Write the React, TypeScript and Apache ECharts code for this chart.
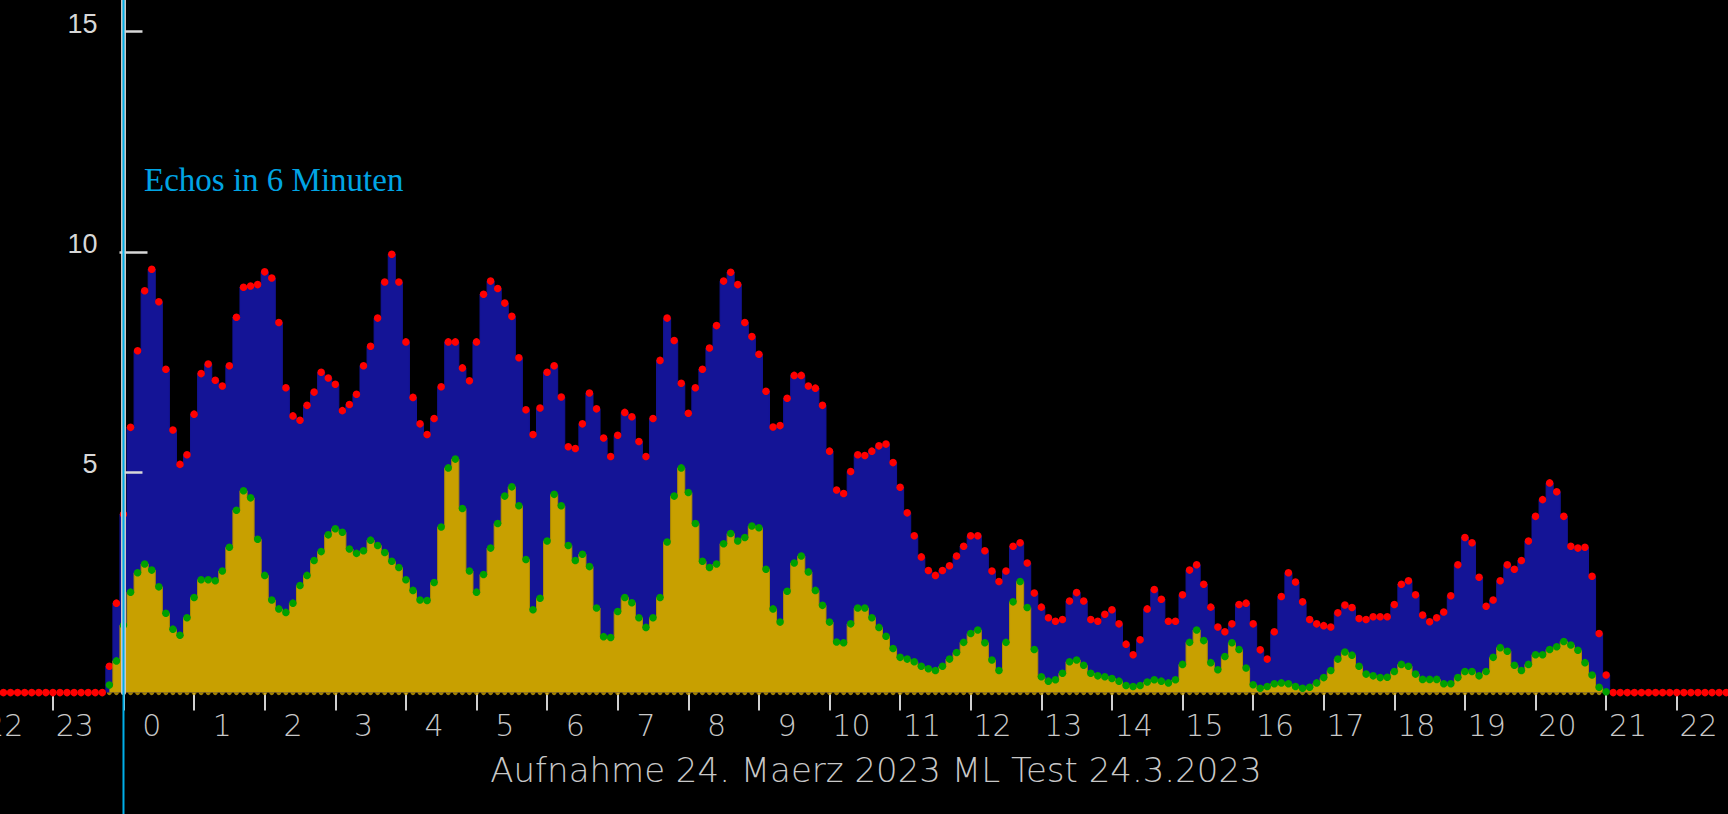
import React, { useEffect, useRef } from "react";
import * as echarts from "echarts";

// one sample every 6 minutes (0.1 h); x axis is hours after midnight
const STEP_HOURS = 0.1;
const TOTAL_START_HOUR = -1.7;
const totalEchos = [
  0, 0, 0, 0, 0, 0, 0, 0, 0, 0, 0, 0, 0, 0, 0,
  0.6, 2.03, 4.05, 6.02, 7.76, 9.12, 9.61, 8.87, 7.34, 5.96, 5.18, 5.4,
  6.32, 7.24, 7.46, 7.09, 6.96, 7.42, 8.52, 9.2, 9.23, 9.26,
  9.55, 9.41, 8.4, 6.92, 6.28, 6.18, 6.52, 6.82, 7.27, 7.14,
  7.0, 6.4, 6.54, 6.77, 7.42, 7.86, 8.5, 9.32, 9.95, 9.32,
  7.96, 6.7, 6.1, 5.86, 6.22, 6.94, 7.96, 7.96, 7.37, 7.08,
  7.96, 9.04, 9.34, 9.17, 8.84, 8.54, 7.6, 6.42, 5.86, 6.46,
  7.27, 7.42, 6.71, 5.58, 5.54, 6.1, 6.8, 6.44, 5.78, 5.36,
  5.84, 6.36, 6.26, 5.7, 5.36, 6.22, 7.54, 8.5, 7.99, 7.02,
  6.34, 6.92, 7.34, 7.82, 8.33, 9.34, 9.54, 9.26, 8.4, 8.08,
  7.68, 6.84, 6.03, 6.06, 6.68, 7.2, 7.2, 6.96, 6.91, 6.52,
  5.48, 4.6, 4.52, 5.02, 5.4, 5.38, 5.48, 5.6, 5.64, 5.22,
  4.66, 4.08, 3.56, 3.08, 2.77, 2.66, 2.77, 2.88, 3.1, 3.32,
  3.56, 3.56, 3.22, 2.76, 2.52, 2.76, 3.32, 3.4, 2.94, 2.26,
  1.94, 1.7, 1.62, 1.66, 2.08, 2.27, 2.08, 1.66, 1.62, 1.78,
  1.88, 1.56, 1.1, 0.86, 1.2, 1.9, 2.34, 2.12, 1.62, 1.62,
  2.22, 2.78, 2.9, 2.46, 1.94, 1.49, 1.38, 1.56, 2.0, 2.03,
  1.56, 0.97, 0.76, 1.38, 2.18, 2.72, 2.51, 2.06, 1.66, 1.56,
  1.52, 1.49, 1.81, 1.99, 1.93, 1.68, 1.66, 1.72, 1.72, 1.72,
  2.0, 2.46, 2.54, 2.22, 1.76, 1.61, 1.7, 1.83, 2.2, 2.9,
  3.52, 3.4, 2.62, 1.96, 2.1, 2.54, 2.9, 2.8, 3.0, 3.44,
  4.0, 4.38, 4.76, 4.56, 4.0, 3.32, 3.28, 3.3, 2.64, 1.34,
  0.4, 0, 0, 0, 0, 0, 0, 0, 0, 0, 0, 0, 0, 0, 0, 0, 0, 0,
];

const GOLD_START_HOUR = -0.2;
const goldEchos = [
  0.17, 0.72, 1.53, 2.28, 2.72, 2.92, 2.78, 2.4, 1.8, 1.44, 1.3, 1.7,
  2.16, 2.56, 2.56, 2.54, 2.76, 3.3, 4.14, 4.58, 4.42, 3.48,
  2.66, 2.1, 1.9, 1.82, 2.03, 2.43, 2.66, 3.0, 3.2, 3.58,
  3.72, 3.64, 3.26, 3.16, 3.22, 3.46, 3.34, 3.18, 2.98, 2.84,
  2.56, 2.32, 2.1, 2.09, 2.5, 3.76, 5.1, 5.3, 4.18, 2.76,
  2.28, 2.68, 3.28, 3.84, 4.46, 4.67, 4.24, 3.02, 1.88, 2.14,
  3.44, 4.5, 4.24, 3.34, 3.0, 3.14, 2.86, 1.92, 1.27, 1.25,
  1.84, 2.16, 2.04, 1.7, 1.48, 1.7, 2.16, 3.42, 4.46, 5.1,
  4.54, 3.84, 2.98, 2.84, 2.92, 3.38, 3.61, 3.44, 3.52, 3.78,
  3.74, 2.8, 1.9, 1.6, 2.3, 2.94, 3.1, 2.74, 2.32, 1.98,
  1.6, 1.15, 1.13, 1.56, 1.92, 1.92, 1.7, 1.48, 1.28, 1.0,
  0.8, 0.76, 0.7, 0.6, 0.54, 0.5, 0.6, 0.76, 0.91, 1.14,
  1.34, 1.42, 1.13, 0.74, 0.5, 1.14, 2.06, 2.52, 1.93, 0.98,
  0.36, 0.26, 0.29, 0.44, 0.7, 0.74, 0.62, 0.44, 0.38, 0.36,
  0.32, 0.26, 0.16, 0.14, 0.16, 0.24, 0.29, 0.26, 0.22, 0.29,
  0.64, 1.14, 1.42, 1.18, 0.68, 0.52, 0.82, 1.13, 0.98, 0.56,
  0.18, 0.1, 0.14, 0.2, 0.22, 0.2, 0.14, 0.1, 0.12, 0.22,
  0.34, 0.5, 0.76, 0.92, 0.85, 0.6, 0.42, 0.38, 0.34, 0.35,
  0.48, 0.64, 0.6, 0.42, 0.3, 0.3, 0.3, 0.2, 0.2, 0.34,
  0.48, 0.48, 0.38, 0.48, 0.8, 1.02, 0.94, 0.62, 0.5, 0.64,
  0.86, 0.86, 0.98, 1.04, 1.16, 1.08, 0.96, 0.68, 0.4, 0.12,
  0.02,
];

// hour slots: label text for the slot starting at each hour
const hourSlotStarts = [-2, -1, 0, 1, 2, 3, 4, 5, 6, 7, 8, 9, 10, 11, 12, 13, 14, 15, 16, 17, 18, 19, 20, 21, 22];
const hourSlotLabels = ["22", "23", "0", "1", "2", "3", "4", "5", "6", "7", "8", "9", "10", "11", "12", "13", "14", "15", "16", "17", "18", "19", "20", "21", "22"];
const hourTickValues = [-1, 0, 1, 2, 3, 4, 5, 6, 7, 8, 9, 10, 11, 12, 13, 14, 15, 16, 17, 18, 19, 20, 21, 22];
const yTickLabels = [5, 10, 15];
const yShortTicks = [5, 15];
const yLongTicks = [10];

const X_MIN = -1.749;
const X_MAX = 22.726;
const Y_MAX = 15.72;

const TITLE_TEXT = "Aufnahme 24. Maerz 2023 ML Test 24.3.2023";
const SERIES_TEXT = "Echos in 6 Minuten";

const hourAt = (start: number, i: number) => Math.round((start + i * STEP_HOURS) * 100) / 100;

export default function App() {
  const ref = useRef<HTMLDivElement>(null);
  useEffect(() => {
    if (!ref.current) return;
    const chart = echarts.init(ref.current, null, { renderer: "svg" });

    const totalData = totalEchos.map((v, i) => [hourAt(TOTAL_START_HOUR, i), v]);
    const goldData = goldEchos.map((v, i) => [hourAt(GOLD_START_HOUR, i), v]);
    const goldBase = goldEchos.map((_, i) => [hourAt(GOLD_START_HOUR, i), 0]);

    const labelPositions = hourSlotStarts.map(
      (h, i) => Math.round((h + (hourSlotLabels[i].length === 1 ? 0.4 : 0.31)) * 100) / 100
    );
    const labelFor = (v: number) => {
      const idx = hourSlotStarts.indexOf(Math.floor(v + 1e-6));
      return idx >= 0 ? hourSlotLabels[idx] : "";
    };

    const yAxisCommon = {
      type: "value",
      min: 0,
      max: Y_MAX,
      position: "left",
      offset: -119.5,
      splitLine: { show: false },
      z: 10,
    };

    chart.setOption({
      animation: false,
      backgroundColor: "#000000",
      grid: {
        left: 0,
        right: 0,
        top: 0,
        bottom: 121.4,
        containLabel: false,
        outerBoundsMode: "none",
      },
      xAxis: {
        type: "value",
        min: X_MIN,
        max: X_MAX,
        axisLine: { show: false },
        splitLine: { show: false },
        axisTick: {
          show: true,
          customValues: hourTickValues,
          length: 18,
          lineStyle: { color: "#d0d0d0", width: 2 },
        },
        axisLabel: {
          customValues: labelPositions,
          formatter: (v: number) => labelFor(v),
          color: "#c8c8c8",
          fontFamily: "DejaVu Sans",
          fontWeight: 200,
          fontSize: 30,
          margin: 18,
          hideOverlap: false,
        },
      },
      yAxis: [
        {
          ...yAxisCommon,
          axisLine: { show: true, lineStyle: { color: "#c8c8c8", width: 5 } },
          axisTick: {
            show: true,
            inside: true,
            length: 19,
            customValues: yShortTicks,
            lineStyle: { color: "#d8d8d8", width: 2.5 },
          },
          axisLabel: {
            customValues: yTickLabels,
            color: "#d8d8d8",
            fontFamily: "Liberation Sans",
            fontSize: 27,
            margin: 22,
            verticalAlign: "bottom",
            lineHeight: 16,
          },
        },
        {
          ...yAxisCommon,
          axisLine: { show: false },
          axisTick: {
            show: true,
            inside: true,
            length: 28,
            customValues: yLongTicks,
            lineStyle: { color: "#d8d8d8", width: 2.5 },
          },
          axisLabel: { show: false },
        },
      ],
      series: [
        {
          type: "scatter",
          data: goldBase,
          symbol: "circle",
          symbolSize: 5,
          itemStyle: { color: "#c8a000" },
          silent: true,
          z: 1,
        },
        {
          type: "line",
          data: totalData,
          step: "middle",
          showAllSymbol: true,
          symbol: "circle",
          symbolSize: 7.5,
          itemStyle: { color: "#ff0000" },
          lineStyle: { color: "#141496", width: 1 },
          areaStyle: { color: "#141496", opacity: 1 },
          silent: true,
          z: 2,
        },
        {
          type: "line",
          data: goldData,
          step: "middle",
          showAllSymbol: true,
          symbol: "circle",
          symbolSize: 7.5,
          itemStyle: { color: "#00a000" },
          lineStyle: { color: "#b08e00", width: 1 },
          areaStyle: { color: "#c8a000", opacity: 1 },
          silent: true,
          z: 3,
        },
      ],
    });

    const midnightX = chart.convertToPixel({ xAxisIndex: 0 }, 0) as number;
    chart.setOption({
      graphic: [
        {
          type: "line",
          z: 100,
          shape: { x1: midnightX, y1: 0, x2: midnightX, y2: 814 },
          style: { stroke: "#00aee8", lineWidth: 2 },
        },
        {
          type: "text",
          z: 100,
          x: midnightX + 20.5,
          y: 180,
          style: {
            text: SERIES_TEXT,
            fill: "#00a4e4",
            font: "33px 'Liberation Serif'",
            verticalAlign: "middle",
            align: "left",
          },
        },
        {
          type: "text",
          z: 100,
          x: 876,
          y: 770,
          style: {
            text: TITLE_TEXT,
            fill: "#c8c8c8",
            font: "200 34px 'DejaVu Sans'",
            verticalAlign: "middle",
            align: "center",
          },
        },
      ],
    });

    return () => chart.dispose();
  }, []);

  return (
    <div
      ref={ref}
      style={{ position: "fixed", left: 0, top: 0, width: 1728, height: 814 }}
    />
  );
}
